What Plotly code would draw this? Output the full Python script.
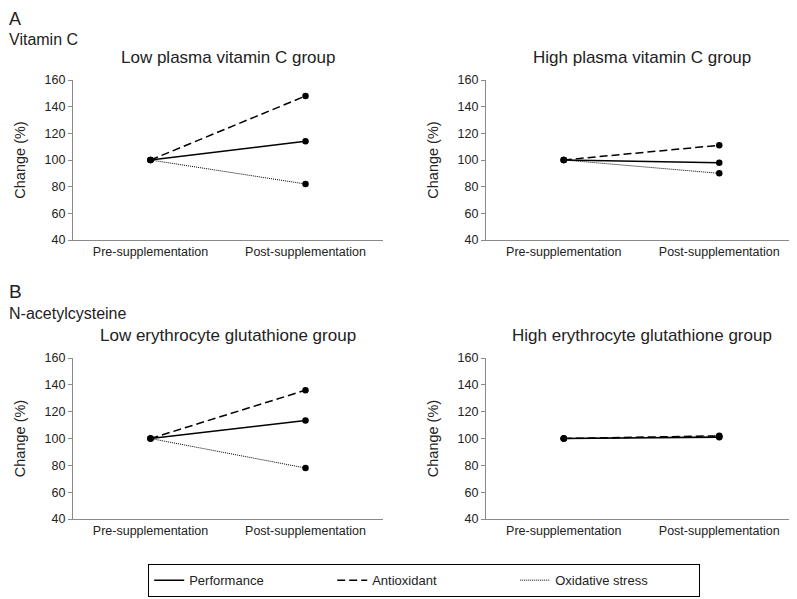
import plotly.graph_objects as go

# ---- data ----
categories = ["Pre-supplementation", "Post-supplementation"]
series_names = ["Performance", "Antioxidant", "Oxidative stress"]

panel_titles = [
    "Low plasma vitamin C group",
    "High plasma vitamin C group",
    "Low erythrocyte glutathione group",
    "High erythrocyte glutathione group",
]

# values per panel: [Pre, Post]
low_vitc_performance = [100, 114]
low_vitc_antioxidant = [100, 148]
low_vitc_oxidative = [100, 82]

high_vitc_performance = [100, 98]
high_vitc_antioxidant = [100, 111]
high_vitc_oxidative = [100, 90]

low_gsh_performance = [100, 113.5]
low_gsh_antioxidant = [100, 136]
low_gsh_oxidative = [100, 78]

high_gsh_performance = [100, 101]
high_gsh_antioxidant = [100, 102]
high_gsh_oxidative = [100, 101.5]

y_ticks = [40, 60, 80, 100, 120, 140, 160]

panels = [
    [low_vitc_performance, low_vitc_antioxidant, low_vitc_oxidative],
    [high_vitc_performance, high_vitc_antioxidant, high_vitc_oxidative],
    [low_gsh_performance, low_gsh_antioxidant, low_gsh_oxidative],
    [high_gsh_performance, high_gsh_antioxidant, high_gsh_oxidative],
]

# ---- styles ----
OFF = 8  # default page body margin
W, H = 797 - OFF, 599 - OFF
FONT = "Liberation Sans, Arial, sans-serif"
line_styles = [
    dict(color="black", width=1.5, dash="solid"),
    dict(color="black", width=1.5, dash="8px,4px"),
    dict(color="black", width=1, dash="1px,1px"),
]

def px_x(a, b):
    return [(a - OFF) / W, min((b - OFF) / W, 1.0)]

def px_y(top, bottom):
    return [(H - (bottom - OFF)) / H, (H - (top - OFF)) / H]

x_domains = [px_x(73, 383), px_x(486, 797), px_x(73, 383), px_x(486, 797)]
y_domains = [px_y(80, 240), px_y(80, 240), px_y(358, 519), px_y(358, 519)]

fig = go.Figure()
for p, vals in enumerate(panels):
    xa = "x" if p == 0 else f"x{p+1}"
    ya = "y" if p == 0 else f"y{p+1}"
    for s in [2, 1, 0]:
        fig.add_trace(go.Scatter(
            x=categories, y=vals[s], mode="lines+markers",
            line=line_styles[s],
            marker=dict(color="black", size=6.5),
            xaxis=xa, yaxis=ya, showlegend=False, name=series_names[s],
            cliponaxis=False,
        ))

# legend-only traces (no markers)
for s in range(3):
    fig.add_trace(go.Scatter(
        x=[None], y=[None], mode="lines", line=line_styles[s],
        name=series_names[s], showlegend=True,
    ))

layout = dict(
    width=W, height=H,
    margin=dict(l=0, r=0, t=0, b=0, autoexpand=False),
    paper_bgcolor="white", plot_bgcolor="white",
    font=dict(family=FONT, color="#222", size=12),
    showlegend=True,
    legend=dict(
        orientation="h", x=(424 - OFF) / W, xanchor="center", y=2 / H, yanchor="bottom",
        bordercolor="black", borderwidth=1.2, bgcolor="white",
        font=dict(size=13, family=FONT, color="#222"),
        entrywidth=138, entrywidthmode="pixels",
        tracegroupgap=0,
    ),
)
for p in range(4):
    sx = "" if p == 0 else str(p + 1)
    layout[f"xaxis{sx}"] = dict(
        domain=x_domains[p], anchor=f"y{sx}", type="category",
        range=[-0.5, 1.5], showgrid=False, zeroline=False,
        showline=True, linecolor="#8a8a8a", linewidth=1.3,
        ticks="", tickfont=dict(size=12.5, family=FONT, color="#222"),
        fixedrange=True,
    )
    layout[f"yaxis{sx}"] = dict(
        domain=y_domains[p], anchor=f"x{sx}", range=[40, 160],
        tickvals=y_ticks, showgrid=False, zeroline=False,
        showline=True, linecolor="#8a8a8a", linewidth=1.3,
        ticks="outside", ticklen=4, tickcolor="#8a8a8a",
        tickfont=dict(size=12.5, family=FONT, color="#222"),
        title=dict(text="Change (%)", font=dict(size=14.5, family=FONT, color="#222"), standoff=15),
        fixedrange=True,
    )
fig.update_layout(**layout)

# subplot titles
for p in range(4):
    xc = (x_domains[p][0] + x_domains[p][1]) / 2
    ytop = y_domains[p][1]
    fig.add_annotation(
        text=panel_titles[p], x=xc, y=ytop, xref="paper", yref="paper",
        xanchor="center", yanchor="bottom", yshift=11, showarrow=False,
        font=dict(size=17, family=FONT, color="#222"),
    )

# panel labels
fig.add_annotation(text="A", x=0, y=1, xref="paper", yref="paper",
                   xanchor="left", yanchor="top", showarrow=False, borderpad=0,
                   font=dict(size=18, family=FONT, color="#222"))
fig.add_annotation(text="Vitamin C", x=0, y=1 - (39 - OFF) / H, xref="paper", yref="paper",
                   xanchor="left", yanchor="middle", showarrow=False, borderpad=0,
                   font=dict(size=16, family=FONT, color="#222"))
fig.add_annotation(text="B", x=0, y=1 - (291 - OFF) / H, xref="paper", yref="paper",
                   xanchor="left", yanchor="middle", showarrow=False, borderpad=0,
                   font=dict(size=19, family=FONT, color="#222"))
fig.add_annotation(text="N-acetylcysteine", x=0, y=1 - (313 - OFF) / H, xref="paper", yref="paper",
                   xanchor="left", yanchor="middle", showarrow=False, borderpad=0,
                   font=dict(size=16, family=FONT, color="#222"))

fig.write_html("out.html")
